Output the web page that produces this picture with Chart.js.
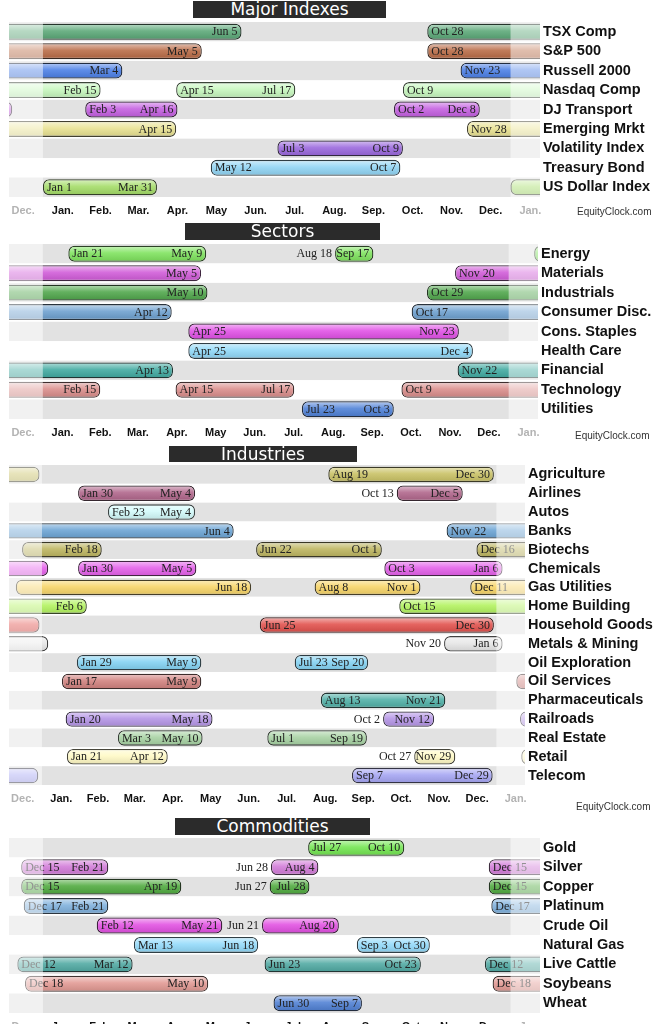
<!DOCTYPE html>
<html>
<head>
<meta charset="utf-8">
<script src="https://cdn.jsdelivr.net/npm/chart.js@4.4.1/dist/chart.umd.min.js"></script>
<style>
  html, body { margin: 0; padding: 0; background: #fff; }
  body { position: relative; width: 672px; height: 1024px; overflow: hidden; font-family: "Liberation Sans", Arial, sans-serif; }
  canvas { position: absolute; left: 0; }
  .title { position: absolute; background: #2b2b2b; color: #fff; text-align: center;
           font-family: "DejaVu Sans", sans-serif; font-size: 17px; }
  .wm { position: absolute; font-size: 10px; color: #333; }
</style>
</head>
<body>

<div class="title" style="left:193px;top:1px;width:193px;height:17px;line-height:17px">Major Indexes</div>
<canvas id="major"></canvas>
<div class="wm" style="left:577px;top:206px">EquityClock.com</div>

<div class="title" style="left:185px;top:223px;width:195px;height:17px;line-height:17px">Sectors</div>
<canvas id="sectors"></canvas>
<div class="wm" style="left:575px;top:430px">EquityClock.com</div>

<div class="title" style="left:169px;top:446px;width:188px;height:16px;line-height:16px">Industries</div>
<canvas id="industries"></canvas>
<div class="wm" style="left:576px;top:801px">EquityClock.com</div>

<div class="title" style="left:175px;top:818px;width:195px;height:17px;line-height:17px">Commodities</div>
<canvas id="commodities"></canvas>

<script>
// month axis
const monthTicks = ["Dec.", "Jan.", "Feb.", "Mar.", "Apr.", "May", "Jun.", "Jul.", "Aug.", "Sep.", "Oct.", "Nov.", "Dec.", "Jan."];
const monthAbbr = ["Jan", "Feb", "Mar", "Apr", "May", "Jun", "Jul", "Aug", "Sep", "Oct", "Nov", "Dec"];
const monthDays = [31, 28, 31, 30, 31, 30, 31, 31, 30, 31, 30, 31];

// Major Indexes
const majorNames = ["TSX Comp", "S&P 500", "Russell 2000", "Nasdaq Comp", "DJ Transport", "Emerging Mrkt", "Volatility Index", "Treasury Bond", "US Dollar Index"];
const majorPeriods = [
  [["Oct 28", "Jun 5"]],
  [["Oct 28", "May 5"]],
  [["Nov 23", "Mar 4"]],
  [["Apr 15", "Jul 17"], ["Oct 9", "Feb 15"]],
  [["Feb 3", "Apr 16"], ["Oct 2", "Dec 8"]],
  [["Nov 28", "Apr 15"]],
  [["Jul 3", "Oct 9"]],
  [["May 12", "Oct 7"]],
  [["Jan 1", "Mar 31"]]
];
const majorColors = ["#5aa877", "#b86a45", "#4a7fe6", "#c6f7bd", "#c45ee0", "#e8e290", "#9966dd", "#8fd4f4", "#a3dc66"];

// Sectors
const sectorNames = ["Energy", "Materials", "Industrials", "Consumer Disc.", "Cons. Staples", "Health Care", "Financial", "Technology", "Utilities"];
const sectorPeriods = [
  [["Jan 21", "May 9"], ["Aug 18", "Sep 17"]],
  [["Nov 20", "May 5"]],
  [["Oct 29", "May 10"]],
  [["Oct 17", "Apr 12"]],
  [["Apr 25", "Nov 23"]],
  [["Apr 25", "Dec 4"]],
  [["Nov 22", "Apr 13"]],
  [["Apr 15", "Jul 17"], ["Oct 9", "Feb 15"]],
  [["Jul 23", "Oct 3"]]
];
const sectorColors = ["#7ee35c", "#d05ad8", "#4fa64a", "#6c9fcf", "#e04fe6", "#8fd8f8", "#3fa9a0", "#d98c8a", "#4d80d6"];

// Industries
const industryNames = ["Agriculture", "Airlines", "Autos", "Banks", "Biotechs", "Chemicals", "Gas Utilities", "Home Building", "Household Goods",
  "Metals & Mining", "Oil Exploration", "Oil Services", "Pharmaceuticals", "Railroads", "Real Estate", "Retail", "Telecom"];
const industryPeriods = [
  [["Aug 19", "Dec 30"]],
  [["Jan 30", "May 4"], ["Oct 13", "Dec 5"]],
  [["Feb 23", "May 4"]],
  [["Nov 22", "Jun 4"]],
  [["Dec 16", "Feb 18"], ["Jun 22", "Oct 1"]],
  [["Jan 30", "May 5"], ["Oct 3", "Jan 6"]],
  [["Dec 11", "Jun 18"], ["Aug 8", "Nov 1"]],
  [["Oct 15", "Feb 6"]],
  [["Jun 25", "Dec 30"]],
  [["Nov 20", "Jan 6"]],
  [["Jan 29", "May 9"], ["Jul 23", "Sep 20"]],
  [["Jan 17", "May 9"]],
  [["Aug 13", "Nov 21"]],
  [["Jan 20", "May 18"], ["Oct 2", "Nov 12"]],
  [["Mar 3", "May 10"], ["Jul 1", "Sep 19"]],
  [["Jan 21", "Apr 12"], ["Oct 27", "Nov 29"]],
  [["Sep 7", "Dec 29"]]
];
const industryColors = ["#c9c163", "#b0648a", "#d2fafa", "#6aa3d4", "#bcb45e", "#e45ee9", "#f7d466", "#b2f25e", "#e2504c",
  "#e6e6e6", "#82d2f2", "#d0807c", "#4fb0a6", "#b494e6", "#a6d2a2", "#fff9c4", "#a4a4f2"];

// Commodities
const commodityNames = ["Gold", "Silver", "Copper", "Platinum", "Crude Oil", "Natural Gas", "Live Cattle", "Soybeans", "Wheat"];
const commodityPeriods = [
  [["Jul 27", "Oct 10"]],
  [["Dec 15", "Feb 21"], ["Jun 28", "Aug 4"]],
  [["Dec 15", "Apr 19"], ["Jun 27", "Jul 28"]],
  [["Dec 17", "Feb 21"]],
  [["Feb 12", "May 21"], ["Jun 21", "Aug 20"]],
  [["Mar 13", "Jun 18"], ["Sep 3", "Oct 30"]],
  [["Dec 12", "Mar 12"], ["Jun 23", "Oct 23"]],
  [["Dec 18", "May 10"]],
  [["Jun 30", "Sep 7"]]
];
const commodityColors = ["#72e650", "#d27ad8", "#4faa3e", "#7eb0dc", "#e24fe2", "#92dafa", "#4fa9a2", "#e29892", "#4f80d4"];

// helpers
const cumDays = monthDays.map((d, i) => monthDays.slice(0, i).reduce((a, b) => a + b, 0));
const monthMids = [-15.5].concat(monthDays.map((d, i) => cumDays[i] + d / 2), [365 + 15.5]);

function day(str) {
  const parts = str.split(" ");
  return cumDays[monthAbbr.indexOf(parts[0])] + Number(parts[1]) - 1;
}

function mix(a, b, t) {
  const pa = parseInt(a.slice(1), 16), pb = parseInt(b.slice(1), 16);
  const ch = s => Math.round(((pa >> s) & 255) * (1 - t) + ((pb >> s) & 255) * t);
  return "rgb(" + ch(16) + "," + ch(8) + "," + ch(0) + ")";
}

function barFill(c, colors) {
  const col = colors[c.dataIndex];
  const chart = c.chart;
  if (c.dataIndex === undefined) return colors[0];
  if (!chart.chartArea || !chart.scales.y) return col;
  const y = chart.scales.y.getPixelForValue(c.dataIndex);
  const g = chart.ctx.createLinearGradient(0, y - 8, 0, y + 8);
  g.addColorStop(0, mix(col, "#ffffff", 0.6));
  g.addColorStop(0.45, mix(col, "#ffffff", 0.12));
  g.addColorStop(1, mix(col, "#000000", 0.1));
  return g;
}

// row bands, date labels and the faded Dec/Jan margins
const seasonPlugin = {
  id: "season",
  beforeDatasetsDraw(chart) {
    const ctx = chart.ctx, a = chart.chartArea;
    const n = chart.data.labels.length;
    const h = (a.bottom - a.top) / n;
    ctx.save();
    for (let i = 0; i < n; i++) {
      ctx.fillStyle = i % 2 === 0 ? "#e2e2e2" : "#ffffff";
      ctx.fillRect(a.left, a.top + i * h, a.right - a.left, h);
    }
    ctx.restore();
  },
  afterDatasetsDraw(chart, args, opts) {
    const ctx = chart.ctx, a = chart.chartArea;
    const x = chart.scales.x, y = chart.scales.y;
    const L = a.left, R = a.right;
    ctx.save();
    ctx.beginPath();
    ctx.rect(a.left, a.top, a.right - a.left, a.bottom - a.top);
    ctx.clip();
    ctx.font = "12px 'Liberation Serif', 'Times New Roman', serif";
    ctx.fillStyle = "#222";
    ctx.textBaseline = "middle";
    chart.data.datasets.forEach(ds => {
      ds.data.forEach((v, i) => {
        if (!v) return;
        const t0 = ds.dates[i][0], t1 = ds.dates[i][1];
        const xs = x.getPixelForValue(v[0]), xe = x.getPixelForValue(v[1]);
        const yc = y.getPixelForValue(i) + 0.5;
        const ws = ctx.measureText(t0).width, we = ctx.measureText(t1).width;
        const showStart = opts.fadedStart || v[0] >= 0;
        if (xe - xs >= ws + we + 10) {
          if (showStart && xs + 4 >= L && xs + 4 + ws <= R - 1) {
            ctx.textAlign = "left";
            ctx.fillText(t0, xs + 4, yc);
          }
        } else if (showStart && xs - 3 - ws >= L) {
          ctx.textAlign = "right";
          ctx.fillText(t0, xs - 3, yc);
        }
        const visW = xe - Math.max(xs, L);
        if (xe - 4 <= R && xe - 4 - we >= L && (xs >= L || visW >= we + 24)) {
          ctx.textAlign = "right";
          ctx.fillText(t1, xe - 4, yc);
        }
      });
    });
    ctx.fillStyle = "rgba(255,255,255,0.5)";
    const x0 = x.getPixelForValue(0), x1 = x.getPixelForValue(365);
    ctx.fillRect(L, a.top, x0 - L, a.bottom - a.top);
    ctx.fillRect(x1, a.top, R - x1, a.bottom - a.top);
    ctx.restore();
  }
};

function buildChart(id, names, periods, colors, cfg) {
  const canvas = document.getElementById(id);
  canvas.width = 672;
  canvas.height = cfg.plotH + 26;
  canvas.style.top = cfg.top + "px";

  const datasets = [];
  const maxP = Math.max(...periods.map(p => p.length));
  for (let k = 0; k < maxP; k++) {
    // each season is repeated one year back and one year forward for the faded margins
    [-365, 0, 365].forEach(shift => {
      datasets.push({
        data: names.map((n, i) => {
          const p = periods[i][k];
          if (!p) return null;
          const s = day(p[0]);
          let e = day(p[1]);
          if (e < s) e += 365;
          return [s + shift, e + shift];
        }),
        dates: names.map((n, i) => periods[i][k] || null),
        grouped: false,
        barPercentage: 0.82,
        categoryPercentage: 1,
        borderRadius: 6,
        borderSkipped: false,
        borderWidth: 1.3,
        borderColor: colors.map(c => mix(c, "#181818", 0.8)),
        backgroundColor: c => barFill(c, colors)
      });
    });
  }

  return new Chart(canvas, {
    type: "bar",
    data: { labels: names, datasets: datasets },
    plugins: [seasonPlugin],
    options: {
      indexAxis: "y",
      responsive: false,
      animation: false,
      devicePixelRatio: 1,
      layout: { padding: { left: 9, right: 0, top: 0, bottom: 0 } },
      plugins: {
        legend: { display: false },
        tooltip: { enabled: false },
        season: { fadedStart: cfg.fadedStart }
      },
      scales: {
        x: {
          type: "linear",
          min: -26.5,
          max: 388,
          bounds: "data",
          grid: { display: false, drawTicks: false },
          border: { display: false },
          afterBuildTicks: s => { s.ticks = monthMids.map(v => ({ value: v })); },
          afterFit: s => { s.height = 26; s.paddingLeft = 0; s.paddingRight = 0; },
          ticks: {
            autoSkip: false,
            maxRotation: 0,
            padding: 7,
            callback: (v, i) => monthTicks[i],
            color: c => (c.index === 0 || c.index === monthTicks.length - 1) ? "#b3b3b3" : "#111",
            font: { family: "'Liberation Sans', Arial, sans-serif", size: 11, weight: "bold" }
          }
        },
        y: {
          type: "category",
          position: "right",
          grid: { display: false, drawTicks: false },
          border: { display: false },
          afterFit: s => { s.width = cfg.axisW; s.paddingTop = 0; s.paddingBottom = 0; },
          ticks: {
            autoSkip: false,
            padding: 3,
            color: "#111",
            font: { family: "'Liberation Sans', Arial, sans-serif", size: 14.5, weight: "bold" }
          }
        }
      }
    }
  });
}

buildChart("major", majorNames, majorPeriods, majorColors, { top: 22, plotH: 175, axisW: 132, fadedStart: true });
buildChart("sectors", sectorNames, sectorPeriods, sectorColors, { top: 244, plotH: 175, axisW: 134, fadedStart: true });
buildChart("industries", industryNames, industryPeriods, industryColors, { top: 465, plotH: 320, axisW: 147, fadedStart: false });
buildChart("commodities", commodityNames, commodityPeriods, commodityColors, { top: 838, plotH: 175, axisW: 132, fadedStart: true });
</script>
</body>
</html>
